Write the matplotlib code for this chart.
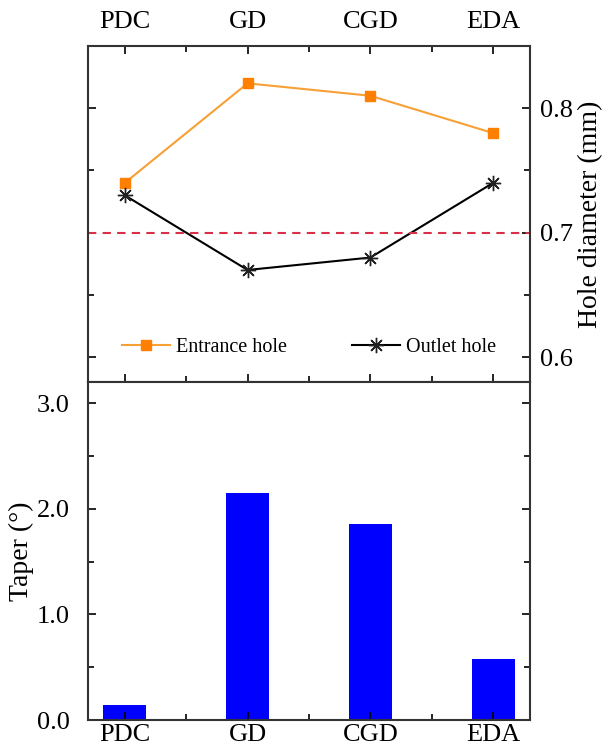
import numpy as np
import matplotlib
matplotlib.use("Agg")
import matplotlib.pyplot as plt
from matplotlib.ticker import MultipleLocator, FixedLocator

plt.rcParams["font.family"] = ["Liberation Serif", "DejaVu Serif"]
plt.rcParams["font.size"] = 19

methods = ["PDC", "GD", "CGD", "EDA"]
entrance_hole = [0.74, 0.82, 0.81, 0.78]
outlet_hole = [0.73, 0.67, 0.68, 0.74]
nominal_diameter = 0.70
taper = [0.14, 2.15, 1.86, 0.58]

x = np.arange(1, len(methods) + 1)

fig = plt.figure(figsize=(6.08, 7.54), dpi=100)
ax_top = fig.add_axes([0.1447, 0.4934, 0.727, 0.4456])
ax_bot = fig.add_axes([0.1447, 0.0450, 0.727, 0.4484])

# upper panel: hole diameters
ax_top.plot(x, entrance_hole, color="#F7A035", lw=1.5, marker="s", ms=7,
            mfc="#FF7F00", mec="#FF7F00", label="Entrance hole")
ax_top.plot(x, outlet_hole, color="black", lw=1.5, marker=(8, 2, 0), ms=11,
            mec="#222222", mew=1.0, label="Outlet hole")
ax_top.axhline(nominal_diameter, color="#D9304A", lw=1.5, ls=(0, (4, 3)))

ax_top.set_xlim(0.7, 4.3)
ax_top.set_ylim(0.58, 0.85)
ax_top.yaxis.set_major_locator(FixedLocator([0.6, 0.7, 0.8]))
ax_top.yaxis.set_minor_locator(FixedLocator([0.65, 0.75]))
ax_top.yaxis.set_major_formatter(plt.FormatStrFormatter("%.1f"))
ax_top.set_xticks(x)
ax_top.set_xticklabels(methods)
ax_top.xaxis.set_minor_locator(MultipleLocator(0.5))
ax_top.tick_params(axis="both", which="both", direction="in",
                   top=True, bottom=True, left=True, right=True,
                   labeltop=True, labelbottom=False,
                   labelleft=False, labelright=True, width=1.2)
ax_top.tick_params(which="major", length=6)
ax_top.tick_params(which="minor", length=4)
ax_top.tick_params(axis="x", which="major", pad=9)
ax_top.tick_params(axis="y", which="major", pad=7)
ax_top.yaxis.set_label_position("right")
ax_top.set_ylabel("Hole diameter (mm)", fontsize=20, labelpad=4)
ax_top.legend(loc="lower center", ncol=2, frameon=False, fontsize=14.5,
              handlelength=2.4, handletextpad=0.3, columnspacing=3.2,
              bbox_to_anchor=(0.5, 0.02))

# lower panel: taper
ax_bot.bar(x, taper, width=0.35, color="#0000FF")
ax_bot.set_xlim(0.7, 4.3)
ax_bot.set_ylim(0, 3.2)
ax_bot.yaxis.set_major_locator(MultipleLocator(1.0))
ax_bot.yaxis.set_minor_locator(MultipleLocator(0.5))
ax_bot.yaxis.set_major_formatter(plt.FormatStrFormatter("%.1f"))
ax_bot.set_xticks(x)
ax_bot.set_xticklabels(methods)
ax_bot.xaxis.set_minor_locator(MultipleLocator(0.5))
ax_bot.tick_params(axis="x", which="both", direction="in", top=False, bottom=True)
ax_bot.tick_params(axis="y", which="both", direction="in", left=True, right=True)
ax_bot.tick_params(which="both", width=1.2)
ax_bot.tick_params(which="major", length=6)
ax_bot.tick_params(which="minor", length=4)
ax_bot.tick_params(axis="x", which="major", pad=3)
ax_bot.tick_params(axis="y", which="major", pad=13)
ax_bot.set_ylabel("Taper (°)", fontsize=20, labelpad=2)

for ax in (ax_top, ax_bot):
    for sp in ax.spines.values():
        sp.set_linewidth(1.5)
        sp.set_color("#333333")

fig.savefig("out.png", dpi=100)
